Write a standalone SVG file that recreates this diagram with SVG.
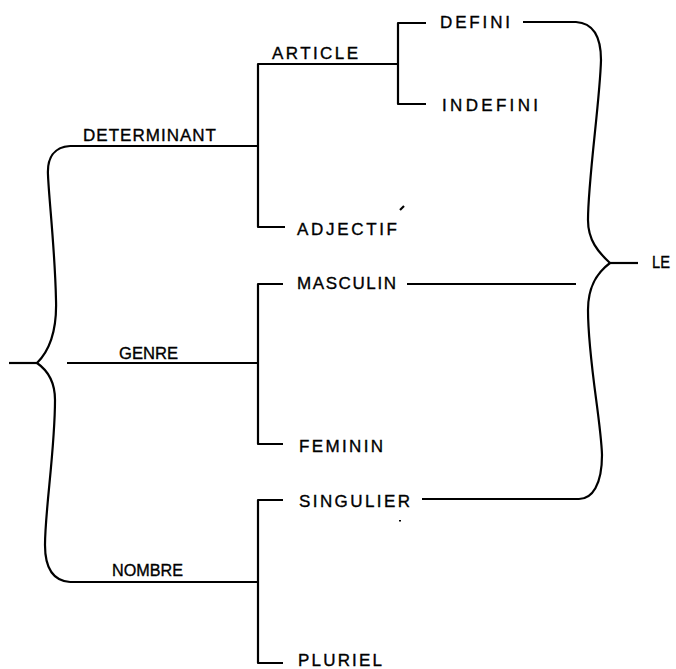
<svg xmlns="http://www.w3.org/2000/svg" width="676" height="669" viewBox="0 0 676 669">
<style>
.c{fill:none;stroke:#000;stroke-width:2.2;stroke-linejoin:round;stroke-linecap:butt}
text{font-family:"Liberation Sans","DejaVu Sans",sans-serif;font-size:17px;fill:#000;stroke:#000;stroke-width:0.35}
</style>
<rect width="676" height="669" fill="#fff"/>
<g id="connectors">
<path class="c" d="M9 363 H37"/>
<path class="c" d="M70 146 C54 147 47 158 48 175 C49 200 55 250 56 300 C57 330 50 350 37 363"/>
<path class="c" d="M37 363 C50 372 55 385 55 400 C55 450 45 510 45 545 C45 570 55 581 70 582"/>
<path class="c" d="M70 146 H258"/>
<path class="c" d="M285 227 H258 V64 H398"/>
<path class="c" d="M426 23 H398 V104 H426"/>
<path class="c" d="M67 363 H258"/>
<path class="c" d="M283 284 H258 V444 H283"/>
<path class="c" d="M70 582 H258"/>
<path class="c" d="M283 500 H258 V663 H283"/>
<path class="c" d="M523 22 H576 C592 23 601 35 601 60 C600 100 588 180 588 220 C588 240 598 252 610 263"/>
<path class="c" d="M610 263 C598 272 588 285 588 310 C588 360 601 420 602 455 C602 485 592 499 579 499 H422"/>
<path class="c" d="M407 284 H576"/>
<path class="c" d="M610 263 H638"/>
<path class="c" d="M400 210 L404 206"/>
<rect x="399" y="520" width="2" height="1.5" fill="#000"/>
</g>
<g id="n-determinant"><text x="83" y="141" textLength="133" lengthAdjust="spacing">DETERMINANT</text></g>
<g id="n-article"><text x="272" y="59" textLength="86" lengthAdjust="spacing">ARTICLE</text></g>
<g id="n-defini"><text x="440" y="28" textLength="70" lengthAdjust="spacing">DEFINI</text></g>
<g id="n-indefini"><text x="442" y="111" textLength="96" lengthAdjust="spacing">INDEFINI</text></g>
<g id="n-adjectif"><text x="297" y="235" textLength="100" lengthAdjust="spacing">ADJECTIF</text></g>
<g id="n-masculin"><text x="297" y="289" textLength="99" lengthAdjust="spacing">MASCULIN</text></g>
<g id="n-genre"><text x="119" y="359" textLength="59" lengthAdjust="spacingAndGlyphs">GENRE</text></g>
<g id="n-feminin"><text x="299" y="452" textLength="84" lengthAdjust="spacing">FEMININ</text></g>
<g id="n-singulier"><text x="299" y="507" textLength="111" lengthAdjust="spacing">SINGULIER</text></g>
<g id="n-nombre"><text x="112" y="576" textLength="71" lengthAdjust="spacingAndGlyphs">NOMBRE</text></g>
<g id="n-pluriel"><text x="298" y="666" textLength="84" lengthAdjust="spacing">PLURIEL</text></g>
<g id="n-le"><text x="652" y="268" textLength="18" lengthAdjust="spacingAndGlyphs">LE</text></g>
</svg>
